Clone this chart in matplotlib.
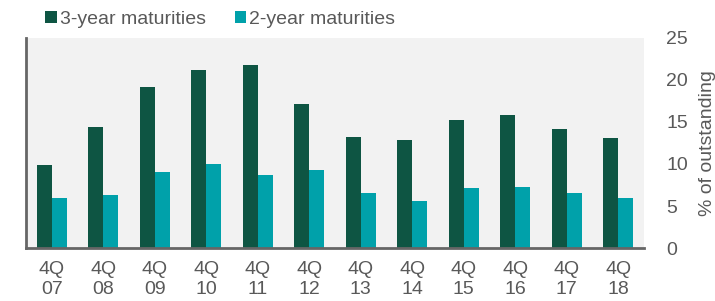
import matplotlib.pyplot as plt
import numpy as np

plt.rcParams['font.family'] = ['Liberation Sans', 'DejaVu Sans']

quarters = ['4Q\n07', '4Q\n08', '4Q\n09', '4Q\n10', '4Q\n11', '4Q\n12',
            '4Q\n13', '4Q\n14', '4Q\n15', '4Q\n16', '4Q\n17', '4Q\n18']
three_year = [9.9, 14.4, 19.2, 21.2, 21.8, 17.1, 13.2, 12.9, 15.2, 15.8, 14.2, 13.1]
two_year = [6.0, 6.3, 9.0, 10.0, 8.7, 9.3, 6.5, 5.6, 7.1, 7.3, 6.5, 5.9]

dark = '#0e5543'
teal = '#00a1aa'
grey = '#595959'

fig = plt.figure(figsize=(7.15, 3.01), dpi=100)
ax = fig.add_axes([0.0364, 0.176, 0.8643, 0.698])
ax.set_facecolor('#f2f2f2')

x = np.arange(len(quarters))
w = 0.29
ax.bar(x - w / 2, three_year, w, color=dark, label='3-year maturities')
ax.bar(x + w / 2, two_year, w, color=teal, label='2-year maturities')

ax.set_xlim(-0.5, len(quarters) - 0.5)
ax.set_ylim(0, 25)
ax.set_yticks([0, 5, 10, 15, 20, 25])
ax.yaxis.tick_right()
ax.yaxis.set_label_position('right')
ax.set_ylabel('% of outstanding', fontsize=14, color=grey, labelpad=8)
ax.set_xticks(x)
ax.set_xticklabels(quarters, linespacing=1.25)
ax.tick_params(axis='both', length=0, labelsize=14, colors=grey)
ax.tick_params(axis='x', pad=9)
ax.tick_params(axis='y', pad=16)

for s in ['top', 'right']:
    ax.spines[s].set_visible(False)
for s in ['left', 'bottom']:
    ax.spines[s].set_color('#666666')
    ax.spines[s].set_linewidth(2)

fig.legend(loc='center left', bbox_to_anchor=(0.052, 0.935), ncol=2, frameon=False,
           fontsize=14, handlelength=0.6, handleheight=0.6, handletextpad=0.15,
           columnspacing=1.5, labelcolor=grey, borderaxespad=0)

fig.savefig('out.png', dpi=100)
